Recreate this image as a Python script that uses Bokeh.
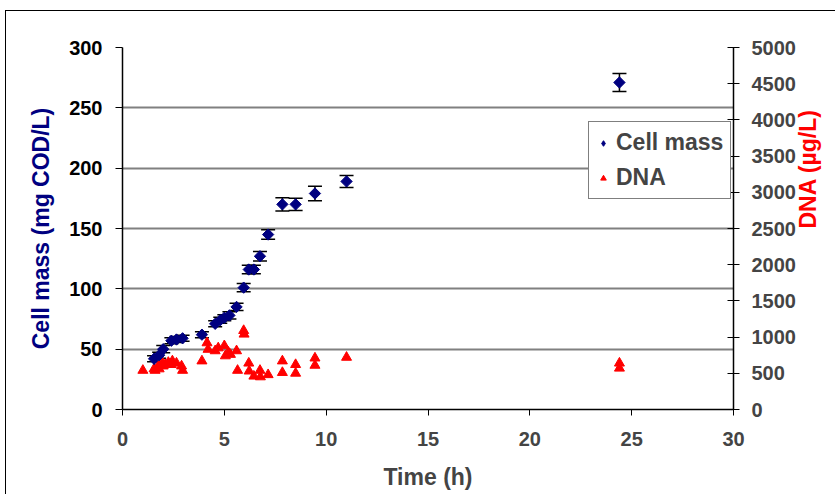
import math
from bokeh.plotting import figure
from bokeh.models import (Range1d, LinearAxis, FixedTicker, Whisker, TeeHead,
                          ColumnDataSource, Legend, LegendItem)
from bokeh.embed import file_html
from bokeh.resources import INLINE

# Cell mass (mg COD/L) with error (+/-)
cm_time = [1.55, 1.8, 2.0, 2.4, 2.65, 2.95, 3.9, 4.55, 4.8, 5.0, 5.25, 5.6, 5.95,
           6.2, 6.45, 6.75, 7.15, 7.85, 8.5, 9.45, 11.0, 24.4]
cm_val = [42, 45, 50, 57, 58, 59, 62, 71, 74, 76, 78, 85, 101,
          116, 116, 127, 145, 170, 170, 179, 189, 271]
cm_err = [2.5, 2.5, 3, 2.5, 2.5, 2.5, 2.5, 2.5, 2.5, 2.5, 3, 3, 3.5,
          3.5, 3.5, 4, 4, 5.5, 5, 6, 5, 7.5]

# DNA (ug/L)
dna_time = [1.0, 1.55, 1.6, 1.75, 1.8, 1.95, 2.0, 2.1, 2.25, 2.4, 2.45, 2.65, 2.9, 2.95,
            3.9, 4.15, 4.2, 4.55, 4.7, 5.0, 5.05, 5.2, 5.3, 5.6, 5.65, 5.95, 5.97,
            6.2, 6.22, 6.45, 6.75, 6.77, 7.15, 7.85, 7.85, 8.5, 8.5, 9.45, 9.45,
            11.0, 24.4, 24.4]
dna_val = [540, 560, 540, 600, 560, 650, 600, 620, 650, 620, 670, 640, 600, 540,
           670, 920, 830, 810, 850, 880, 740, 790, 760, 810, 540, 1090, 1040,
           640, 530, 460, 540, 450, 480, 670, 510, 620, 500, 710, 610,
           720, 640, 570]

x_ticks = [0, 5, 10, 15, 20, 25, 30]
left_ticks = [0, 50, 100, 150, 200, 250, 300]
right_ticks = [0, 500, 1000, 1500, 2000, 2500, 3000, 3500, 4000, 4500, 5000]

FONT = "Liberation Sans"

p = figure(width=830, height=484, output_backend="svg", toolbar_location=None,
           x_range=Range1d(0, 30), y_range=Range1d(0, 300),
           min_border_left=116, min_border_right=101, min_border_top=36,
           min_border_bottom=86)
p.extra_y_ranges = {"dna": Range1d(0, 5000)}
p.outline_line_color = None
p.background_fill_color = "white"
p.border_fill_color = "white"

p.xgrid.grid_line_color = None
p.ygrid.grid_line_color = "#808080"
p.ygrid.grid_line_width = 2
p.ygrid.ticker = FixedTicker(ticks=left_ticks)

# Left axis
ya = p.yaxis[0]
ya.ticker = FixedTicker(ticks=left_ticks)
ya.axis_label = "Cell mass (mg COD/L)"
ya.axis_label_text_color = "#000080"
ya.axis_label_text_font = FONT
ya.axis_label_text_font_style = "bold"
ya.axis_label_text_font_size = "23px"
ya.axis_label_standoff = 12
ya.major_label_text_font = FONT
ya.major_label_text_font_style = "bold"
ya.major_label_text_font_size = "20px"
ya.major_label_text_color = "black"
ya.major_label_standoff = 13
ya.major_tick_out = 7
ya.major_tick_in = 0
ya.minor_tick_line_color = None
ya.axis_line_color = "black"
ya.axis_line_width = 1.5

# Bottom axis
xa = p.xaxis[0]
xa.ticker = FixedTicker(ticks=x_ticks)
xa.axis_label = "Time (h)"
xa.axis_label_text_font = FONT
xa.axis_label_text_font_style = "bold"
xa.axis_label_text_font_size = "23px"
xa.axis_label_standoff = 15
xa.major_label_text_font = FONT
xa.major_label_text_font_style = "bold"
xa.major_label_text_font_size = "20px"
xa.major_label_standoff = 16
xa.major_tick_out = 6
xa.major_tick_in = 0
xa.minor_tick_line_color = None
xa.axis_line_color = "black"
xa.axis_line_width = 1.5

# Right axis
ra = LinearAxis(y_range_name="dna", ticker=FixedTicker(ticks=right_ticks))
ra.axis_label = "DNA (µg/L)"
ra.axis_label_orientation = math.pi / 2
ra.axis_label_text_align = "center"
ra.axis_label_text_color = "red"
ra.axis_label_text_font = FONT
ra.axis_label_text_font_style = "bold"
ra.axis_label_text_font_size = "23px"
ra.axis_label_standoff = 9
ra.major_label_text_font = FONT
ra.major_label_text_font_style = "bold"
ra.major_label_text_font_size = "20px"
ra.major_label_standoff = 12
ra.major_tick_out = 6
ra.major_tick_in = 6
ra.minor_tick_line_color = None
ra.axis_line_color = "black"
ra.axis_line_width = 1.5
p.add_layout(ra, "right")

cm_src = ColumnDataSource(dict(t=cm_time, v=cm_val,
                               lo=[v - e for v, e in zip(cm_val, cm_err)],
                               hi=[v + e for v, e in zip(cm_val, cm_err)]))
dna_src = ColumnDataSource(dict(t=dna_time, v=dna_val))

wh = Whisker(source=cm_src, base="t", lower="lo", upper="hi",
             line_color="black", line_width=1.5,
             upper_head=TeeHead(size=14, line_color="black", line_width=1.5),
             lower_head=TeeHead(size=14, line_color="black", line_width=1.5))
p.add_layout(wh)

r_dna = p.scatter("t", "v", source=dna_src, marker="triangle", size=10,
                  fill_color="red", line_color="red", y_range_name="dna")
# legend proxy (diamond shape), hidden beneath the real markers
r_cm_leg = p.scatter(x=cm_time[:1], y=cm_val[:1], marker="diamond", size=11,
                     fill_color="#000080", line_color="#000080")
r_cm = p.scatter("t", "v", source=cm_src, marker="square", angle=math.pi / 4,
                 size=8, fill_color="#000080", line_color="#000080")

legend = Legend(items=[LegendItem(label="Cell mass", renderers=[r_cm_leg]),
                       LegendItem(label="DNA", renderers=[r_dna])],
                location=(466, 210))
legend.label_text_font = FONT
legend.label_text_font_style = "bold"
legend.label_text_font_size = "23px"
legend.border_line_color = "black"
legend.border_line_width = 1
legend.background_fill_color = "white"
legend.background_fill_alpha = 1
legend.padding = 7
legend.spacing = 8
legend.margin = 0
legend.label_height = 24
legend.glyph_width = 14
legend.glyph_height = 24
legend.label_standoff = 6
p.add_layout(legend)

p.styles = {"border-top": "1px solid black", "border-left": "1px solid black",
            "margin-top": "10px", "margin-left": "5px"}

open("out.html", "w").write(file_html(p, INLINE))
